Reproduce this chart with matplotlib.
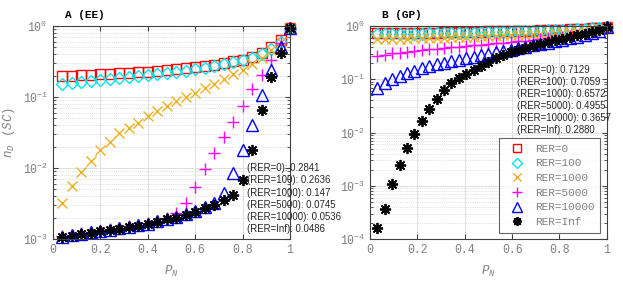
import numpy as np
import matplotlib
matplotlib.use('Agg')
import matplotlib.pyplot as plt

plt.rcParams['mathtext.fontset'] = 'custom'
plt.rcParams['mathtext.it'] = 'Liberation Mono:italic'
plt.rcParams['mathtext.rm'] = 'Liberation Mono'

# ---- data, panel A (EE) ----
pA = [0.04 * k for k in range(1, 26)]
eeRER0 = [.198, .2, .203, .206, .209, .212, .215, .219, .223, .228, .234, .241, .249,
          .257, .265, .275, .287, .301, .317, .336, .37, .42, .5, .63, .95]
eeRER100 = [.155, .158, .163, .168, .173, .178, .184, .19, .196, .202, .209, .217, .226,
            .236, .247, .259, .272, .289, .307, .33, .36, .41, .48, .6, .92]
eeRER1000 = [.0032, .0056, .0089, .0127, .018, .0235, .031, .037, .0436, .054, .0635,
             .0747, .088, .101, .113, .132, .152, .177, .211, .24, .288, .35, .46, .6, .93]
eeRER5000 = [.0011, .00115, .0012, .00125, .0013, .00137, .00144, .00152, .0016, .0017,
             .0018, .00195, .0023, .00325, .0055, .0096, .0161, .0276, .045, .075, .128,
             .204, .33, .57, .95]
eeRER10000 = [.00108, .00113, .00118, .00124, .0013, .00136, .00142, .00149, .00157,
              .00165, .00177, .00192, .00203, .00223, .00245, .0028, .0032, .0044, .0085,
              .018, .040, .107, .24, .5, .95]
eeRERInf = [.00107, .00112, .00117, .00122, .00128, .00134, .0014, .00147, .00155, .00163,
            .00175, .0019, .002, .0022, .0024, .0027, .003, .0035, .0042, .0069, .018,
            .066, .19, .42, .95]

# ---- data, panel B (GP) ----
pB = [k / 32 for k in range(1, 33)]
gpRER0 = [.73, .73, .735, .74, .74, .745, .75, .75, .755, .76, .765, .77, .775, .78, .785,
          .79, .795, .8, .805, .81, .815, .82, .83, .84, .85, .86, .87, .88, .89, .91, .93, .97]
gpRER100 = [.70, .70, .705, .71, .715, .72, .72, .725, .73, .735, .74, .745, .75, .755, .76,
            .765, .77, .78, .785, .79, .80, .81, .82, .83, .84, .85, .86, .87, .885, .90, .93, .97]
gpRER1000 = [.56, .565, .57, .575, .58, .585, .59, .596, .602, .608, .614, .62, .627, .634,
             .641, .648, .656, .664, .672, .681, .69, .70, .71, .72, .735, .75, .765, .785,
             .81, .84, .88, .96]
gpRER5000 = [.275, .29, .305, .318, .33, .342, .353, .364, .375, .386, .397, .408, .42, .432,
             .444, .456, .47, .484, .5, .515, .53, .548, .566, .585, .605, .63, .655, .685,
             .72, .77, .84, .96]
gpRER10000 = [.068, .085, .10, .116, .134, .146, .16, .175, .19, .205, .22, .235, .25, .267,
              .285, .303, .322, .342, .362, .385, .41, .435, .46, .49, .52, .555, .59, .63,
              .68, .74, .82, .95]
gpRERInf = [1.65e-4, 3.6e-4, 1.1e-3, 2.5e-3, 5.2e-3, .0095, .0163, .0277, .0427, .0637, .087,
            .105, .127, .15, .179, .215, .249, .287, .32, .355, .39, .425, .46, .5, .54, .58,
            .62, .67, .72, .78, .85, .95]

labels = ['RER=0', 'RER=100', 'RER=1000', 'RER=5000', 'RER=10000', 'RER=Inf']
eeAuc = ['0.2841', '0.2636', '0.147', '0.0745', '0.0536', '0.0486']
gpAuc = ['0.7129', '0.7059', '0.6572', '0.4955', '0.3657', '0.2880']

styles = [dict(marker='s', color='#ff0000', ms=6.5, mfc='none', mew=1.0),
          dict(marker='D', color='#00e5ee', ms=6.5, mfc='none', mew=1.0),
          dict(marker='x', color='#edb120', ms=6.5, mew=1.0),
          dict(marker='+', color='#ff00ff', ms=9, mew=1.0),
          dict(marker='^', color='#0000ff', ms=8.5, mfc='none', mew=1.0),
          dict(marker=(8, 2, 0), color='black', ms=8, mew=1.3)]

tickgray = '#808080'
mono = 'Liberation Mono'

fig = plt.figure(figsize=(6.23, 2.86), dpi=100)
axA = fig.add_axes([0.0845, 0.164, 0.381, 0.745])
axB = fig.add_axes([0.594, 0.164, 0.380, 0.745])


def style_axes(ax, ymin, title):
    ax.set_yscale('log')
    ax.set_xlim(0, 1)
    ax.set_ylim(ymin, 1)
    ax.set_xticks([0, 0.2, 0.4, 0.6, 0.8, 1])
    ax.set_xticklabels(['0', '0.2', '0.4', '0.6', '0.8', '1'])
    ax.grid(True, which='major', color='#e0e0e0', lw=0.7)
    ax.grid(True, which='minor', color='#c8c8c8', lw=0.5, ls=':')
    ax.set_axisbelow(True)
    ax.tick_params(which='both', direction='in', colors='#404040', labelcolor=tickgray,
                   labelsize=8.3, top=True, right=True)
    ax.tick_params(which='minor', length=2)
    for lab in ax.get_xticklabels() + ax.get_yticklabels():
        lab.set_family(mono)
    for s in ax.spines.values():
        s.set_color('#404040')
        s.set_linewidth(0.8)
    ax.set_xlabel(r'$P_N$', color=tickgray, fontsize=9, labelpad=6)
    ax.text(0.05, 1.03, title, transform=ax.transAxes, fontsize=8, fontweight='bold',
            family=mono, ha='left', va='bottom')


handles = []
for ys, st, lab in zip([eeRER0, eeRER100, eeRER1000, eeRER5000, eeRER10000, eeRERInf],
                       styles, labels):
    axA.plot(pA, ys, ls='none', clip_on=False, label=lab, **st)
for ys, st, lab in zip([gpRER0, gpRER100, gpRER1000, gpRER5000, gpRER10000, gpRERInf],
                       styles, labels):
    h, = axB.plot(pB, ys, ls='none', clip_on=False, label=lab, **st)
    handles.append(h)

style_axes(axA, 1e-3, 'A (EE)')
style_axes(axB, 1e-4, 'B (GP)')
axA.set_ylabel(r'$n_D$  $(SC)$', color=tickgray, fontsize=9, labelpad=4)

for i, (lab, v) in enumerate(zip(labels, eeAuc)):
    axA.text(0.818, 0.333 - i * 0.0575, '(%s): %s' % (lab, v), transform=axA.transAxes,
             fontsize=6.9, family='Liberation Sans', color='#262626', va='center', ha='left')
for i, (lab, v) in enumerate(zip(labels, gpAuc)):
    axB.text(0.619, 0.794 - i * 0.0565, '(%s): %s' % (lab, v), transform=axB.transAxes,
             fontsize=6.9, family='Liberation Sans', color='#262626', va='center', ha='left')

leg = axB.legend(handles=handles, loc='lower right', bbox_to_anchor=(0.972, 0.03),
                 prop={'family': mono, 'size': 8}, frameon=True, fancybox=False,
                 edgecolor='#404040', labelcolor=tickgray, handlelength=2.2,
                 handletextpad=0.5, labelspacing=0.42, borderpad=0.5, borderaxespad=0,
                 markerscale=0.8)
leg.get_frame().set_linewidth(0.8)

fig.savefig('out.png', dpi=100)
